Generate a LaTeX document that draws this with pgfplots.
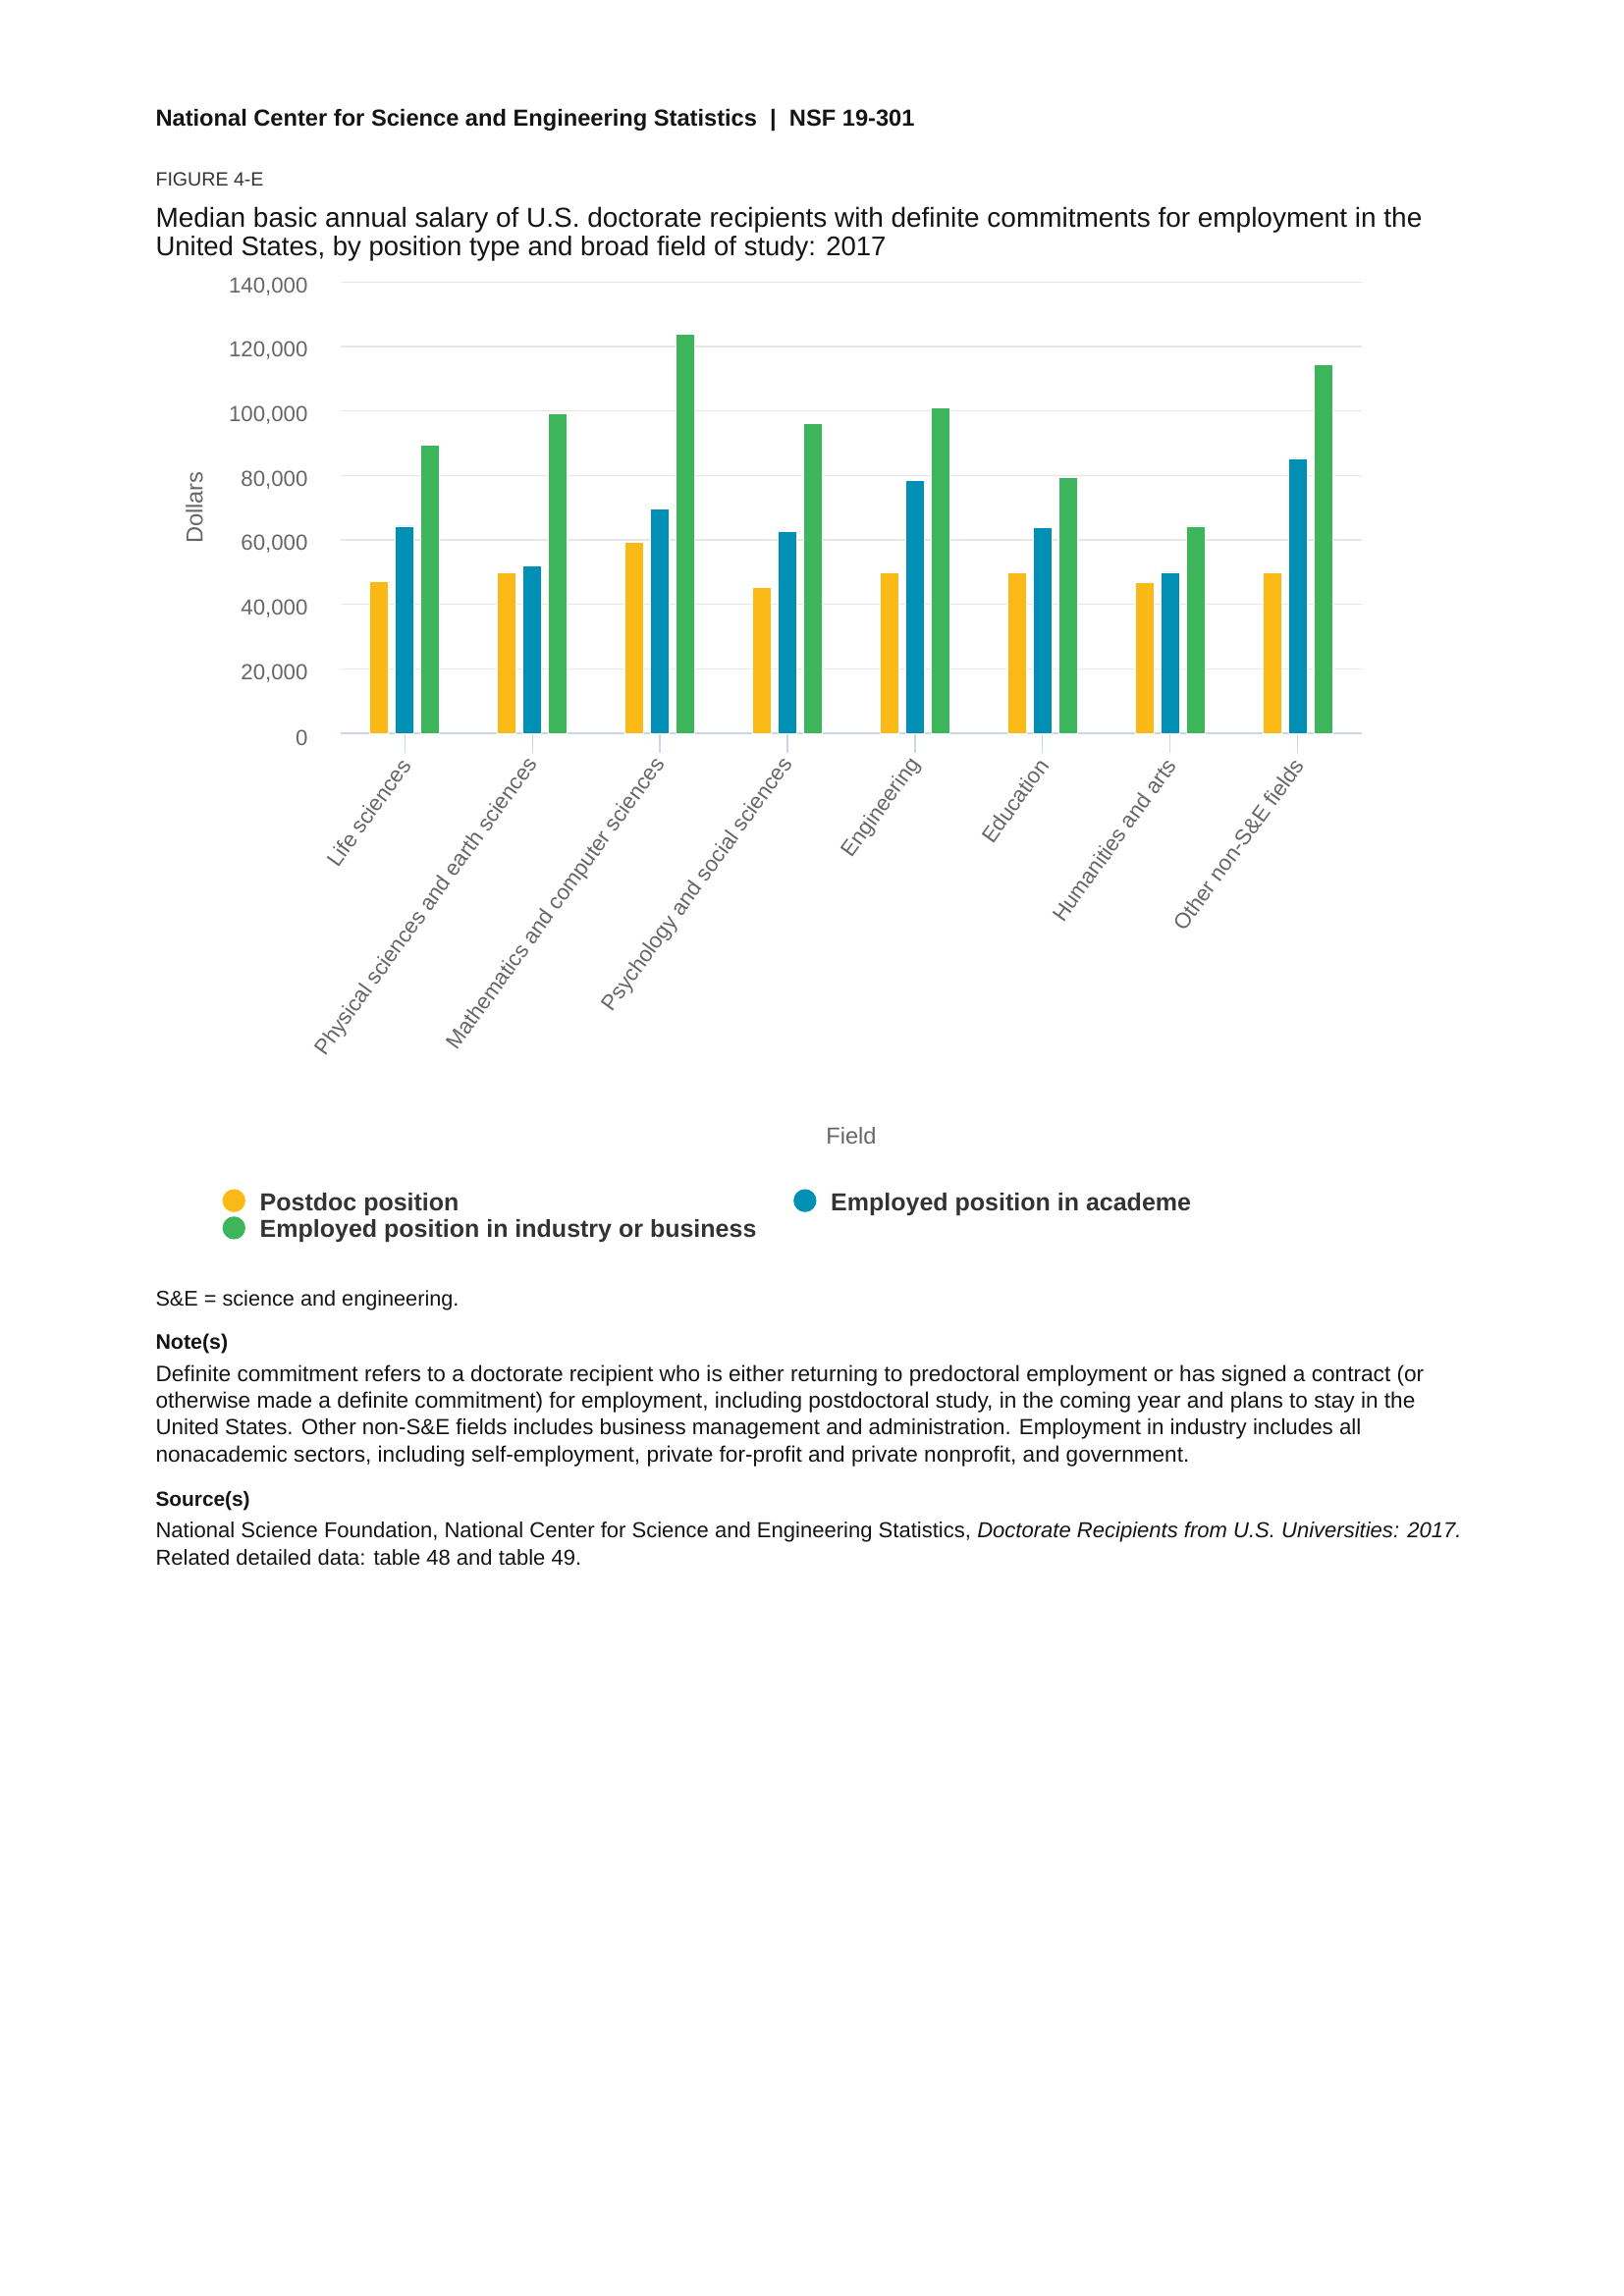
\documentclass[border=0pt]{standalone}
\usepackage{fontspec}
\setmainfont{Liberation Sans}
\usepackage{pgfplots}
\pgfplotsset{compat=1.18}
\usepackage{graphicx}
\definecolor{ylw}{RGB}{251,185,21}
\definecolor{blu}{RGB}{0,143,181}
\definecolor{grn}{RGB}{61,181,90}
\definecolor{gridc}{RGB}{230,230,230}
\definecolor{axisc}{RGB}{204,214,235}
\definecolor{labc}{RGB}{102,102,102}
\definecolor{legc}{RGB}{51,51,51}
\definecolor{txtc}{RGB}{20,20,20}
\newcommand{\fitline}[2]{\resizebox{#1}{!}{#2}}
\begin{document}
\begin{tikzpicture}
\useasboundingbox (0,0) rectangle (595.28pt,-841.89pt);
\begin{axis}[
  at={(125.0pt,-268.95pt)}, anchor=south west,
  scale only axis, width=374.08pt, height=165.55pt,
  ybar, bar width=6.73pt,
  xmin=-0.5, xmax=7.5, ymin=0, ymax=140000,
  xtick={0,1,2,3,4,5,6,7},
  xticklabels={Life sciences,Physical sciences and earth sciences,Mathematics and computer sciences,Psychology and social sciences,Engineering,Education,Humanities and arts,Other non-S\&E fields},
  ytick={0,20000,40000,60000,80000,100000,120000,140000},
  scaled y ticks=false,
  /pgf/number format/assume math mode=true,
  yticklabel style={/pgf/number format/fixed,/pgf/number format/1000 sep={,}},
  axis x line*=bottom, axis y line*=left,
  y axis line style={draw=none},
  x axis line style={draw=axisc, line width=0.8pt},
  tick align=outside, major tick length=7.2pt,
  xtick style={draw=axisc, line width=0.45pt},
  ytick style={draw=none},
  ymajorgrids, major grid style={draw=gridc, line width=0.45pt},
  tick label style={font=\fontsize{8}{9.6}\selectfont, text=labc},
  yticklabel style={anchor=east, inner sep=0pt, xshift=-4.8pt, yshift=-1.6pt},
  xticklabel style={inner sep=0pt, xshift=0.5pt, yshift=-2.8pt, rotate=54, anchor=east},
  xlabel={Field}, ylabel={Dollars},
  label style={font=\fontsize{8.5}{10}\selectfont, text=labc},
  xlabel style={at={(axis description cs:0.5,-0.8907)}, anchor=center},
  ylabel style={at={(axis description cs:-0.1436,0.5)}, anchor=center},
  legend columns=2,
  legend cell align=left,
  legend style={at={(axis description cs:-0.1161,-1.0093)}, anchor=north west,
    draw=none, fill=none, inner sep=0pt, outer sep=0pt,
    font=\bfseries\fontsize{9}{10.8}\selectfont, text=legc,
    nodes={inner sep=0pt, text height=6.5pt, text depth=1.9pt},
    row sep=0.3pt,
    /tikz/every odd column/.append style={column sep=5.3pt},
    /tikz/every even column/.append style={column sep=13.6pt}},
  legend image code/.code={\fill[#1, draw=none] (4.2pt,1.3pt) circle (4.2pt);},
]
\addplot[fill=ylw, draw=white, line width=0.3pt, bar shift=-9.36pt] coordinates
  {(0,47200) (1,50000) (2,59400) (3,45400) (4,50000) (5,50000) (6,46800) (7,50000)};
\addplot[fill=blu, draw=white, line width=0.3pt, bar shift=0pt] coordinates
  {(0,64300) (1,51900) (2,69600) (3,62500) (4,78400) (5,63800) (6,50000) (7,85300)};
\addplot[fill=grn, draw=white, line width=0.3pt, bar shift=9.36pt] coordinates
  {(0,89400) (1,99300) (2,123900) (3,96200) (4,101100) (5,79500) (6,64300) (7,114500)};
\legend{Postdoc position,Employed position in academe,Employed position in industry or business}
\end{axis}
\begin{scope}[x=0.35990pt, y=-0.35990pt, every node/.style={anchor=base west, inner sep=0pt, text=txtc}]
\node at (158,129) {\fitline{278.2pt}{\bfseries National Center for Science and Engineering Statistics~~|~~NSF 19-301}};
\node[text=legc] at (158,190) {\fitline{39.6pt}{FIGURE 4-E}};
\node at (158,231.7) {\fitline{464.3pt}{Median basic annual salary of U.S. doctorate recipients with definite commitments for employment in the}};
\node at (158,260.7) {\fitline{267.8pt}{United States, by position type and broad field of study: 2017}};
\node at (158,1331) {\fitline{111.2pt}{S\&E = science and engineering.}};
\node at (158,1375) {\fitline{26.5pt}{\bfseries Note(s)}};
\node at (158,1407.3) {\fitline{465.0pt}{Definite commitment refers to a doctorate recipient who is either returning to predoctoral employment or has signed a contract (or}};
\node at (158,1435) {\fitline{461.8pt}{otherwise made a definite commitment) for employment, including postdoctoral study, in the coming year and plans to stay in the}};
\node at (158,1461.7) {\fitline{442.0pt}{United States. Other non-S\&E fields includes business management and administration. Employment in industry includes all}};
\node at (158,1490) {\fitline{379.0pt}{nonacademic sectors, including self-employment, private for-profit and private nonprofit, and government.}};
\node at (158,1535) {\fitline{34.6pt}{\bfseries Source(s)}};
\node at (158,1566.7) {\fitline{478.7pt}{National Science Foundation, National Center for Science and Engineering Statistics, \textit{Doctorate Recipients from U.S. Universities: 2017.}}};
\node at (158,1595) {\fitline{156.1pt}{Related detailed data: table 48 and table 49.}};
\end{scope}
\end{tikzpicture}
\end{document}
